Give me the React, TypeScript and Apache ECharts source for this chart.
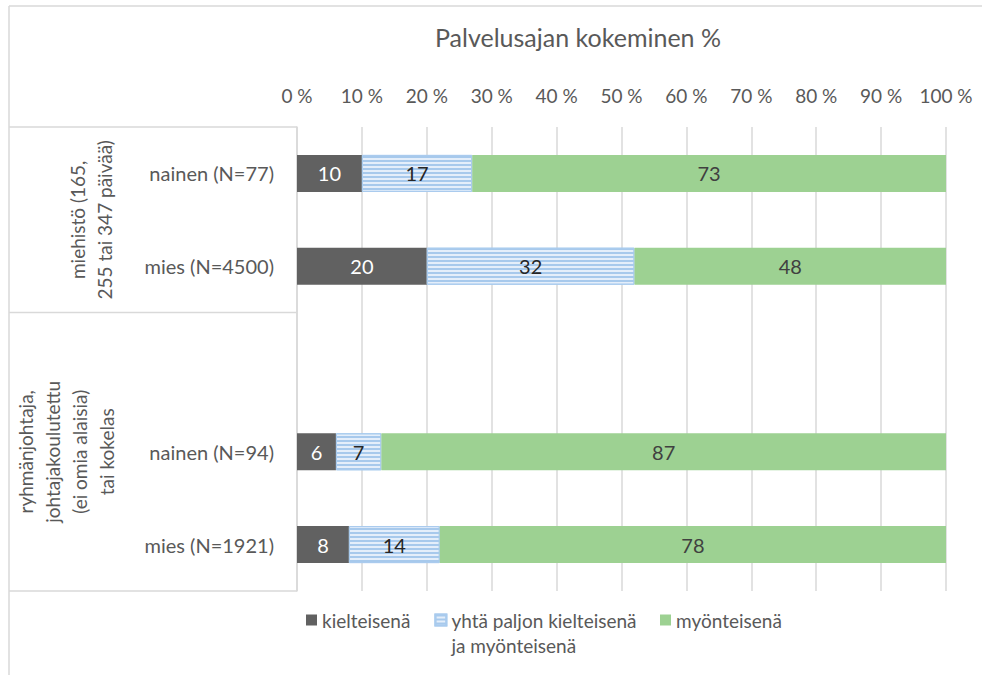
import React, { useEffect, useRef } from 'react';
import * as echarts from 'echarts';

const chartTitle = 'Palvelusajan kokeminen %';
const categories = ['nainen (N=77)', 'mies (N=4500)', '', 'nainen (N=94)', 'mies (N=1921)'];
const groupLabels = [
  'miehistö (165,\n255 tai 347 päivää)',
  'ryhmänjohtaja,\njohtajakoulutettu\n(ei omia alaisia)\ntai kokelas',
];
const groupCategoryRanges = [[0, 1], [2, 4]];
const seriesNames = ['kielteisenä', 'yhtä paljon kielteisenä ja myönteisenä', 'myönteisenä'];
const legendLines = ['yhtä paljon kielteisenä', 'ja myönteisenä'];
const negativeValues = [10, 20, '-', 6, 8];
const neutralValues = [17, 32, '-', 7, 14];
const positiveValues = [73, 48, '-', 87, 78];
const axisMin = 0;
const axisMax = 100;
const axisInterval = 10;

const FONT = 'Lato, "Noto Sans", sans-serif';
const TEXT = '#595959';
const LINE = '#d9d9d9';

export default function App() {
  const ref = useRef<HTMLDivElement>(null);
  useEffect(() => {
    if (!ref.current) return;
    const chart = echarts.init(ref.current, null, { renderer: 'svg' });
    const labelBase = { show: true, position: 'inside', fontSize: 20, fontFamily: FONT };
    const legendBase = {
      padding: 0,
      itemWidth: 11,
      itemHeight: 11,
      itemGap: 24,
      icon: 'rect',
      selectedMode: false,
      textStyle: { fontSize: 19, color: TEXT, fontFamily: FONT, lineHeight: 25 },
    };
    chart.setOption({
      animation: false,
      backgroundColor: '#ffffff',
      textStyle: { fontFamily: FONT },
      title: {
        text: chartTitle,
        left: 435,
        top: 24,
        padding: 0,
        textStyle: { fontSize: 25, fontWeight: 'normal', color: TEXT, fontFamily: FONT },
      },
      grid: { left: 297, right: 36, top: 127, bottom: 84, containLabel: false },
      legend: [
        {
          ...legendBase,
          left: 306,
          top: 582.5,
          data: [seriesNames[0], seriesNames[1]],
          formatter: (name: string) =>
            name === seriesNames[1] ? `\n${legendLines[0]}\n${legendLines[1]}` : name,
        },
        {
          ...legendBase,
          left: 660,
          top: 607.5,
          data: [seriesNames[2]],
        },
      ],
      xAxis: {
        type: 'value',
        position: 'top',
        min: axisMin,
        max: axisMax,
        interval: axisInterval,
        axisLine: { show: false },
        axisTick: { show: false },
        axisLabel: {
          formatter: '{value} %',
          fontSize: 19,
          color: TEXT,
          fontFamily: FONT,
          margin: 22,
        },
        splitLine: { show: true, lineStyle: { color: LINE, width: 1.5 } },
      },
      yAxis: {
        type: 'category',
        inverse: true,
        data: categories,
        axisLine: { show: true, lineStyle: { color: LINE, width: 1.5 } },
        axisTick: { show: false },
        axisLabel: { fontSize: 20, color: TEXT, fontFamily: FONT, margin: 23 },
      },
      series: [
        {
          name: seriesNames[0],
          type: 'bar',
          stack: 'all',
          barWidth: 37,
          data: negativeValues,
          itemStyle: { color: '#616161' },
          label: { ...labelBase, color: '#ffffff' },
        },
        {
          name: seriesNames[1],
          type: 'bar',
          stack: 'all',
          barWidth: 37,
          data: neutralValues,
          itemStyle: {
            color: '#e4eefa',
            borderColor: '#a9cbee',
            borderWidth: 1,
            decal: {
              symbol: 'rect',
              symbolSize: 1,
              dashArrayX: [1, 0],
              dashArrayY: [2, 2],
              rotation: 0,
              color: '#a7c9ec',
            },
          },
          label: { ...labelBase, color: '#262626' },
        },
        {
          name: seriesNames[2],
          type: 'bar',
          stack: 'all',
          barWidth: 37,
          data: positiveValues,
          itemStyle: { color: '#9dd192' },
          label: { ...labelBase, color: '#404040' },
        },
      ],
    });

    const yPix = (i: number) => chart.convertToPixel({ yAxisIndex: 0 }, categories[i]) as number;
    const step = yPix(1) - yPix(0);
    const gridTop = yPix(0) - step / 2;
    const axisX = chart.convertToPixel({ xAxisIndex: 0 }, axisMin) as number;
    const boundaries = [gridTop, ...groupCategoryRanges.map((r) => yPix(r[1]) + step / 2)];
    const groupCenters = groupCategoryRanges.map((r) => (yPix(r[0]) + yPix(r[1])) / 2);
    const groupX = [91, 66];

    const elements: any[] = [
      { type: 'line', shape: { x1: 9, y1: 6, x2: 982, y2: 6 }, style: { stroke: LINE, lineWidth: 1.5 } },
      { type: 'line', shape: { x1: 9, y1: 6, x2: 9, y2: 675 }, style: { stroke: LINE, lineWidth: 1.5 } },
      ...boundaries.map((y) => ({
        type: 'line',
        shape: { x1: 9, y1: y, x2: axisX, y2: y },
        style: { stroke: LINE, lineWidth: 1.5 },
      })),
      ...groupLabels.map((t, i) => ({
        type: 'text',
        x: groupX[i],
        y: groupCenters[i],
        rotation: Math.PI / 2,
        style: {
          text: t,
          fontSize: 19,
          lineHeight: 27,
          fill: TEXT,
          fontFamily: FONT,
          align: 'center',
          verticalAlign: 'middle',
        },
      })),
    ];
    chart.setOption({ graphic: { elements } });
    return () => chart.dispose();
  }, []);
  return (
    <div
      ref={ref}
      style={{ position: 'fixed', left: 0, top: 0, width: 982, height: 675 }}
    />
  );
}
